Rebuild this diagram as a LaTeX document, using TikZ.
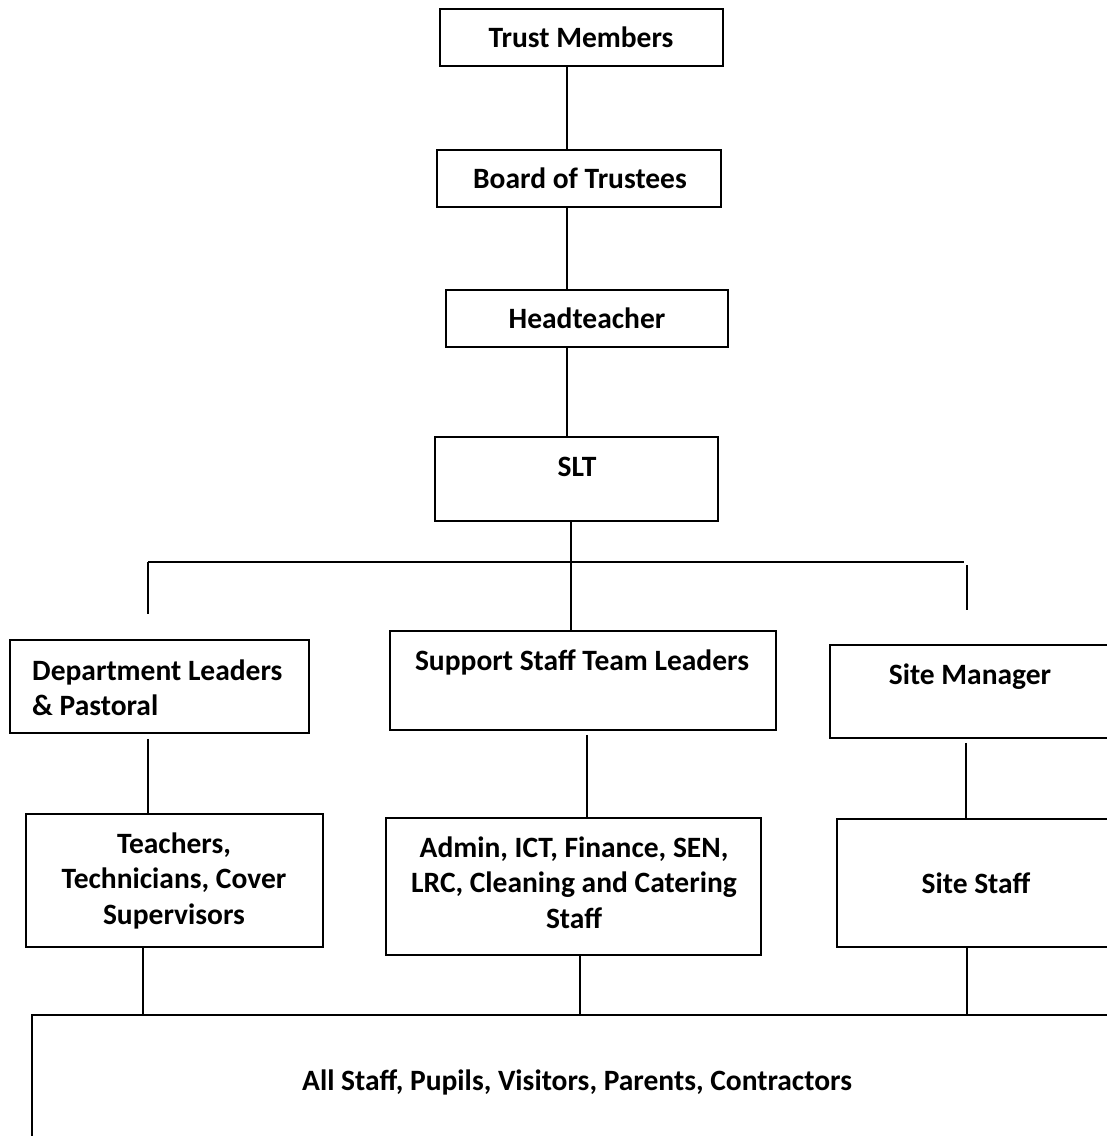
\documentclass[tikz,border=0pt]{standalone}
\usepackage{fontspec}
\setmainfont{Carlito}
\usetikzlibrary{calc}
\begin{document}
\begin{tikzpicture}[x=1pt,y=-1pt,
  box/.style={draw, line width=1.6pt, inner sep=0pt},
  txt/.style={font=\bfseries\fontsize{29.5}{35.5}\selectfont, inner sep=0pt, align=center},
  conn/.style={line width=1.5pt}]
\useasboundingbox (0,0) rectangle (1107,1136);
\clip (0,0) rectangle (1107,1136);

% boxes
\node[box, minimum width=283, minimum height=57] (tm) at (581.5,37.5) {};
\node[box, minimum width=284, minimum height=57] (bt) at (579,178.5) {};
\node[box, minimum width=282, minimum height=57] (ht) at (587,318.5) {};
\node[box, minimum width=283, minimum height=84] (slt) at (576.5,479) {};
\node[box, minimum width=299, minimum height=93] (dept) at (159.5,686.5) {};
\node[box, minimum width=386, minimum height=99] (sup) at (583,680.5) {};
\node[box, minimum width=285, minimum height=93] (sm) at (972.5,691.5) {};
\node[box, minimum width=297, minimum height=133] (teach) at (174.5,880.5) {};
\node[box, minimum width=375, minimum height=137] (admin) at (573.5,886.5) {};
\node[box, minimum width=278, minimum height=128] (ss) at (976,883) {};
\node[box, minimum width=1083, minimum height=130] (all) at (573.5,1080) {};

% texts
\node[txt, anchor=base] (tm-t) at (581,47) {Trust Members};
\node[txt, anchor=base] (bt-t) at (580,188) {Board of Trustees};
\node[txt, anchor=base] (ht-t) at (587,328) {Headteacher};
\node[txt, anchor=base] (slt-t) at (577,476) {SLT};
\node[txt, anchor=base] (sup-t) at (582,670) {Support Staff Team Leaders};
\node[txt, anchor=base] (sm-t) at (970,684) {Site Manager};
\node[txt, anchor=west, align=left] (dept-t) at (32,687.5) {Department Leaders\\\& Pastoral};
\node[txt] (teach-t) at (174,880.5) {Teachers,\\Technicians, Cover\\Supervisors};
\node[txt] (admin-t) at (574,882.5) {Admin, ICT, Finance, SEN,\\LRC, Cleaning and Catering\\Staff};
\node[txt, anchor=base] (ss-t) at (976,893) {Site Staff};
\node[txt, anchor=base] (all-t) at (577,1090) {All Staff, Pupils, Visitors, Parents, Contractors};

% connector coordinates
\coordinate (xa) at (567,0);
\coordinate (xb) at (571,0);
\coordinate (xl) at (148,0);
\coordinate (xm) at (587,0);
\coordinate (xr) at (966,0);
\coordinate (yl) at (143,0);
\coordinate (ym) at (580,0);
\coordinate (yr) at (967,0);
\coordinate (hl) at (148,562);
\coordinate (hr) at (964,562);
\coordinate (dl) at (148,614);
\coordinate (rt) at (967,565);
\coordinate (rb) at (967,610);

% connectors
\draw[conn] (tm.south -| xa) -- (bt.north -| xa);
\draw[conn] (bt.south -| xa) -- (ht.north -| xa);
\draw[conn] (ht.south -| xa) -- (slt.north -| xa);
\draw[conn] (slt.south -| xb) -- (sup.north -| xb);
\draw[conn] (hl) -- (hr);
\draw[conn] (hl) -- (dl);
\draw[conn] (rt) -- (rb);
\draw[conn] ($(dept.south -| xl)+(0,5)$) -- (teach.north -| xl);
\draw[conn] ($(sup.south -| xm)+(0,4)$) -- (admin.north -| xm);
\draw[conn] ($(sm.south -| xr)+(0,4)$) -- (ss.north -| xr);
\draw[conn] (teach.south -| yl) -- (all.north -| yl);
\draw[conn] (admin.south -| ym) -- (all.north -| ym);
\draw[conn] (ss.south -| yr) -- (all.north -| yr);
\end{tikzpicture}
\end{document}
